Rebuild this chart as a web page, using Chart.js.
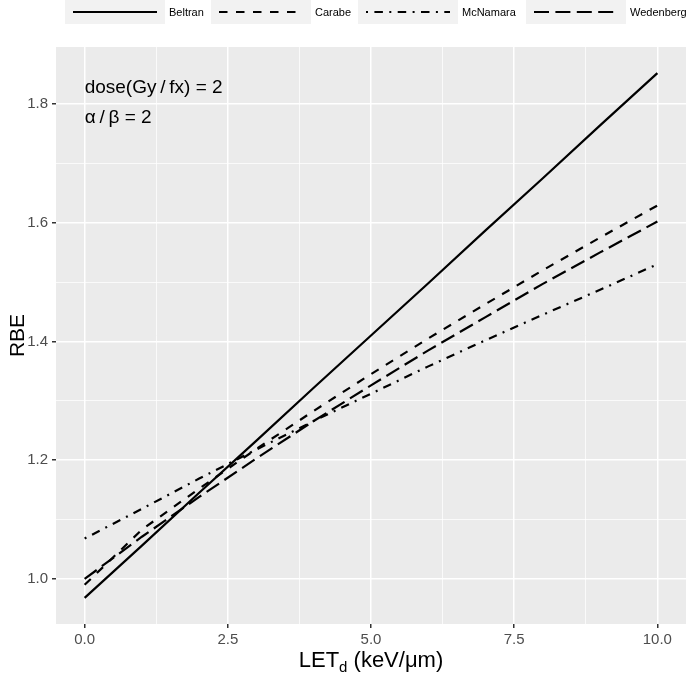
<!DOCTYPE html>
<html>
<head>
<meta charset="utf-8">
<script src="https://cdn.jsdelivr.net/npm/chart.js@4"></script>
<style>
  html, body { margin: 0; padding: 0; background: #ffffff; }
  #wrap { width: 688px; height: 675px; }
</style>
</head>
<body>
<div id="wrap"><canvas id="rbeChart" width="688" height="675"></canvas></div>
<script>
// LET_d values (keV/um) the curves are sampled at
const letValues = [0, 1, 2, 3, 4, 5, 6, 7, 8, 9, 10];

// RBE per model (dose 2 Gy/fx, alpha/beta 2)
const beltran   = [0.968, 1.056, 1.145, 1.233, 1.322, 1.410, 1.498, 1.587, 1.675, 1.764, 1.852];
const carabe    = [0.990, 1.083, 1.152, 1.219, 1.283, 1.345, 1.405, 1.463, 1.520, 1.575, 1.629];
const mcnamara  = [1.068, 1.118, 1.169, 1.218, 1.266, 1.312, 1.358, 1.402, 1.445, 1.487, 1.530];
const wedenberg = [1.000, 1.071, 1.138, 1.203, 1.266, 1.326, 1.385, 1.441, 1.497, 1.550, 1.602];

const modelNames = ['Beltran', 'Carabe', 'McNamara', 'Wedenberg'];

// axis ticks (major ones get labels, minor ones only a thin grid line)
const xMajorTicks = [0, 2.5, 5, 7.5, 10];
const xMinorTicks = [1.25, 3.75, 6.25, 8.75];
const yMajorTicks = [1.0, 1.2, 1.4, 1.6, 1.8];
const yMinorTicks = [1.1, 1.3, 1.5, 1.7];

const doseText = 'dose(Gy\u2009/\u2009fx) = 2';
const abText = '\u03b1\u2009/\u2009\u03b2 = 2';

// ggplot linetypes: solid, dashed, dotdash, longdash
const dashes = [[], [8.5, 8.5], [2, 6.4, 8.5, 6.4], [15, 6.4]];
const seriesValues = [beltran, carabe, mcnamara, wedenberg];

const FONT = '"Liberation Sans", Arial, sans-serif';

function points(values) {
  return letValues.map((x, i) => ({ x: x, y: values[i] }));
}

function isMajor(list, v) {
  return list.some(m => Math.abs(m - v) < 1e-6);
}

// grey panel behind the plot
const panelBg = {
  id: 'panelBg',
  beforeDraw(chart) {
    const { ctx, chartArea: a } = chart;
    ctx.save();
    ctx.fillStyle = '#EBEBEB';
    ctx.fillRect(a.left, a.top, a.right - a.left, a.bottom - a.top);
    ctx.restore();
  }
};

// legend on top, axis titles and the annotation
const extras = {
  id: 'extras',
  afterDraw(chart) {
    const { ctx, chartArea: a, scales } = chart;
    ctx.save();

    // legend keys
    const keyX = [65, 211, 358, 526];
    ctx.font = '11px ' + FONT;
    ctx.textBaseline = 'middle';
    modelNames.forEach((name, i) => {
      ctx.fillStyle = '#F2F2F2';
      ctx.fillRect(keyX[i], 0, 100, 24);
      ctx.strokeStyle = '#000';
      ctx.lineWidth = 2.2;
      ctx.lineCap = 'butt';
      ctx.setLineDash(dashes[i]);
      ctx.beginPath();
      ctx.moveTo(keyX[i] + 8, 12);
      ctx.lineTo(keyX[i] + 92, 12);
      ctx.stroke();
      ctx.setLineDash([]);
      ctx.fillStyle = '#000';
      ctx.textAlign = 'left';
      ctx.fillText(name, keyX[i] + 104, 13);
    });

    // annotation
    const ax = scales.x.getPixelForValue(0);
    ctx.font = '19px ' + FONT;
    ctx.fillStyle = '#000';
    ctx.textAlign = 'left';
    ctx.textBaseline = 'alphabetic';
    ctx.fillText(doseText, ax, scales.y.getPixelForValue(1.8177));
    ctx.fillText(abText, ax, scales.y.getPixelForValue(1.7672));

    // y title
    ctx.font = '21px ' + FONT;
    ctx.save();
    ctx.translate(24, (a.top + a.bottom) / 2);
    ctx.rotate(-Math.PI / 2);
    ctx.textAlign = 'center';
    ctx.fillText('RBE', 0, 0);
    ctx.restore();

    // x title with subscript d
    const big = '22px ' + FONT, small = '15px ' + FONT;
    ctx.font = big;
    const w1 = ctx.measureText('LET').width;
    const w3 = ctx.measureText(' (keV/\u03bcm)').width;
    ctx.font = small;
    const w2 = ctx.measureText('d').width;
    let x = (a.left + a.right) / 2 - (w1 + w2 + w3) / 2;
    const base = 667;
    ctx.textAlign = 'left';
    ctx.font = big;
    ctx.fillText('LET', x, base);
    x += w1;
    ctx.font = small;
    ctx.fillText('d', x, base + 5);
    x += w2;
    ctx.font = big;
    ctx.fillText(' (keV/\u03bcm)', x, base);

    ctx.restore();
  }
};

const datasets = modelNames.map((name, i) => ({
  label: name,
  data: points(seriesValues[i]),
  borderColor: '#000000',
  borderWidth: 2.2,
  borderDash: dashes[i],
  borderCapStyle: 'butt',
  pointRadius: 0,
  tension: 0,
  fill: false
}));

new Chart(document.getElementById('rbeChart'), {
  type: 'line',
  data: { datasets: datasets },
  options: {
    responsive: false,
    animation: false,
    events: [],
    layout: { padding: { top: 47, right: 2, left: 0, bottom: 0 } },
    plugins: { legend: { display: false }, tooltip: { enabled: false } },
    scales: {
      x: {
        type: 'linear',
        min: -0.5,
        max: 10.5,
        afterBuildTicks(axis) {
          axis.ticks = xMajorTicks.concat(xMinorTicks).sort((p, q) => p - q).map(v => ({ value: v }));
        },
        afterFit(axis) { axis.height = 51; },
        border: { display: false },
        grid: {
          color: '#FFFFFF',
          lineWidth: c => isMajor(xMajorTicks, c.tick.value) ? 1.5 : 0.75,
          tickColor: c => isMajor(xMajorTicks, c.tick.value) ? '#333333' : 'rgba(0,0,0,0)',
          tickLength: 4
        },
        ticks: {
          autoSkip: false,
          maxRotation: 0,
          padding: 3,
          color: '#4D4D4D',
          font: { family: FONT, size: 15 },
          callback: v => isMajor(xMajorTicks, v) ? v.toFixed(1) : ''
        }
      },
      y: {
        type: 'linear',
        min: 0.924,
        max: 1.896,
        afterBuildTicks(axis) {
          axis.ticks = yMajorTicks.concat(yMinorTicks).sort((p, q) => p - q).map(v => ({ value: v }));
        },
        afterFit(axis) { axis.width = 56; },
        border: { display: false },
        grid: {
          color: '#FFFFFF',
          lineWidth: c => isMajor(yMajorTicks, c.tick.value) ? 1.5 : 0.75,
          tickColor: c => isMajor(yMajorTicks, c.tick.value) ? '#333333' : 'rgba(0,0,0,0)',
          tickLength: 4
        },
        ticks: {
          autoSkip: false,
          padding: 4,
          color: '#4D4D4D',
          font: { family: FONT, size: 15 },
          callback: v => isMajor(yMajorTicks, v) ? v.toFixed(1) : ''
        }
      }
    }
  },
  plugins: [panelBg, extras]
});
</script>
</body>
</html>
